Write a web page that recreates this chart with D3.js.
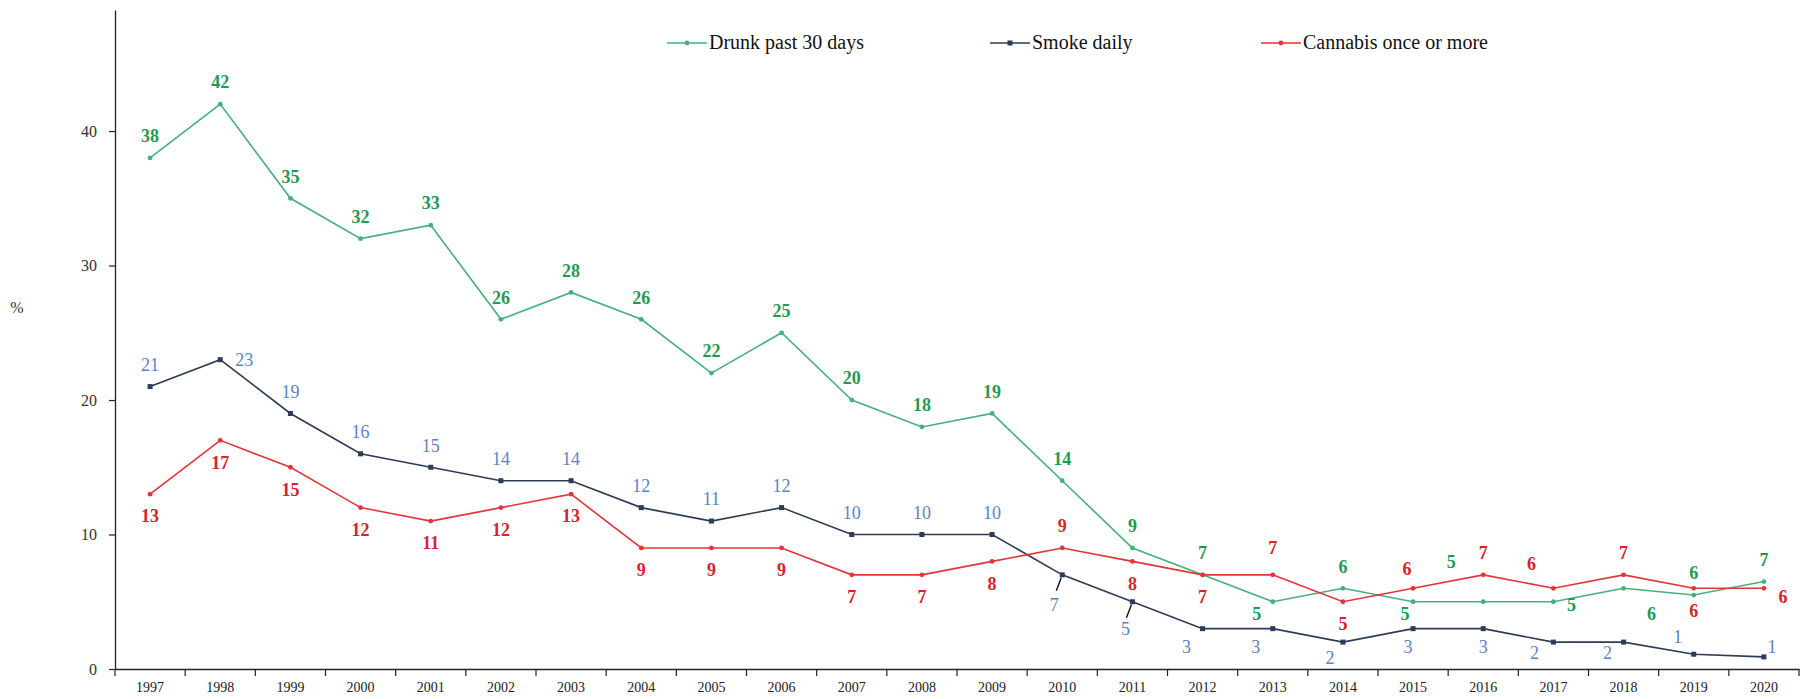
<!DOCTYPE html>
<html>
<head>
<meta charset="utf-8">
<script src="https://cdn.jsdelivr.net/npm/d3@7"></script>
<style>
  body { margin: 0; background: #fff; }
  svg { display: block; font-family: "Liberation Serif", "Times New Roman", serif; }
</style>
</head>
<body>
<div id="chart"></div>
<script>
// chart values
const years = [1997, 1998, 1999, 2000, 2001, 2002, 2003, 2004, 2005, 2006, 2007, 2008,
               2009, 2010, 2011, 2012, 2013, 2014, 2015, 2016, 2017, 2018, 2019, 2020];
const drunk    = [38, 42, 35, 32, 33, 26, 28, 26, 22, 25, 20, 18, 19, 14, 9, 7, 5, 6, 5, 5, 5, 6, 5.5, 6.5];
const smoke    = [21, 23, 19, 16, 15, 14, 14, 12, 11, 12, 10, 10, 10, 7, 5, 3, 3, 2, 3, 3, 2, 2, 1.1, 0.9];
const cannabis = [13, 17, 15, 12, 11, 12, 13, 9, 9, 9, 7, 7, 8, 9, 8, 7, 7, 5, 6, 7, 6, 7, 6, 6];
const yTicks = [0, 10, 20, 30, 40];
const seriesNames = ["Drunk past 30 days", "Smoke daily", "Cannabis once or more"];

// where each value label sits: "a" above, "b" below, or an explicit offset
const A = "a", B = "b";
const drunkPlace = [A, A, A, A, A, A, A, A, A, A, A, A, A, A, A, A,
    {dx: -16, dy: 12}, A, {dx: -8, dy: 12}, {dx: -32, dy: -40}, {dx: 18, dy: 3},
    {dx: 28, dy: 25}, A, A];
const smokePlace = [A, {dx: 24, dy: 0}, A, A, A, A, A, A, A, A, A, A, A,
    {dx: -8, dy: 30, leader: true}, {dx: -7, dy: 27, leader: true},
    {dx: -16, dy: 18}, {dx: -17, dy: 18}, {dx: -13, dy: 16}, {dx: -5, dy: 18}, {dx: 0, dy: 18},
    {dx: -19, dy: 11}, {dx: -16, dy: 11}, {dx: -16, dy: -18}, {dx: 8, dy: -10}];
const cannabisPlace = [B, B, B, B, B, B, B, B, B, B, B, B, B, A, B, B,
    {dx: 0, dy: -27}, B, {dx: -6, dy: -20}, A, {dx: -22, dy: -25}, A, B, {dx: 19, dy: 8}];

const W = 1802, H = 699;
const svg = d3.select("#chart").append("svg")
    .attr("width", W)
    .attr("height", H);

// scales
const x = d3.scaleBand()
    .domain(years)
    .range([115, 1799])
    .padding(0);
const y = d3.scaleLinear()
    .domain([0, 49])
    .range([669, 10]);
const cx = d => x(d) + x.bandwidth() / 2;

// y axis
const yAxis = svg.append("g")
    .attr("transform", "translate(115,0)")
    .call(d3.axisLeft(y).tickValues(yTicks).tickSize(6).tickSizeOuter(0).tickPadding(12));
yAxis.select(".domain").attr("stroke", "#222").attr("stroke-width", 1.3);
yAxis.selectAll(".tick line").attr("stroke", "#222").attr("stroke-width", 1.2);
yAxis.selectAll(".tick text")
    .attr("font-family", "Liberation Serif, serif")
    .attr("font-size", 16)
    .attr("fill", "#333");

// x axis: labels centred in each band, ticks on the band edges
const xAxis = svg.append("g")
    .attr("transform", "translate(0,669)")
    .call(d3.axisBottom(x).tickSize(0).tickSizeOuter(0).tickPadding(13));
xAxis.select(".domain").attr("stroke", "#222").attr("stroke-width", 1.3);
xAxis.selectAll(".tick text")
    .attr("font-family", "Liberation Serif, serif")
    .attr("font-size", 14)
    .attr("fill", "#222");
xAxis.selectAll(".edge")
    .data(years.concat(["end"]))
    .enter()
    .append("line")
    .attr("class", "edge")
    .attr("x1", d => d === "end" ? x(years[years.length - 1]) + x.bandwidth() : x(d))
    .attr("x2", d => d === "end" ? x(years[years.length - 1]) + x.bandwidth() : x(d))
    .attr("y1", 0)
    .attr("y2", 7)
    .attr("stroke", "#222")
    .attr("stroke-width", 1.2);

// "%" axis caption
svg.append("text")
    .attr("x", 17)
    .attr("y", 313)
    .attr("text-anchor", "middle")
    .attr("font-size", 16)
    .attr("fill", "#333")
    .text("%");

const series = [
    {name: seriesNames[0], values: drunk, place: drunkPlace, line: "#46b07a", label: "#1f9a55", weight: "bold", marker: "circle"},
    {name: seriesNames[1], values: smoke, place: smokePlace, line: "#2c3b58", label: "#5c83c2", weight: "normal", marker: "square"},
    {name: seriesNames[2], values: cannabis, place: cannabisPlace, line: "#e3343a", label: "#d9232b", weight: "bold", marker: "circle"}
];

const line = d3.line()
    .x((d, i) => cx(years[i]))
    .y(d => y(d));

series.forEach(s => {
    const g = svg.append("g");

    g.append("path")
        .attr("d", line(s.values))
        .attr("fill", "none")
        .attr("stroke", s.line)
        .attr("stroke-width", 1.6);

    if (s.marker === "square") {
        g.selectAll("rect")
            .data(s.values)
            .enter()
            .append("rect")
            .attr("x", (d, i) => cx(years[i]) - 2.5)
            .attr("y", d => y(d) - 2.5)
            .attr("width", 5)
            .attr("height", 5)
            .attr("fill", s.line);
    } else {
        g.selectAll("circle")
            .data(s.values)
            .enter()
            .append("circle")
            .attr("cx", (d, i) => cx(years[i]))
            .attr("cy", d => y(d))
            .attr("r", 2.4)
            .attr("fill", s.line);
    }

    const off = p => p === A ? {dx: 0, dy: -22} : p === B ? {dx: 0, dy: 22} : p;

    // leader lines for labels pushed away from their point
    g.selectAll(".leader")
        .data(s.values.map((v, i) => ({v: v, i: i})).filter(d => s.place[d.i].leader))
        .enter()
        .append("line")
        .attr("class", "leader")
        .attr("x1", d => cx(years[d.i]) - 1)
        .attr("y1", d => y(d.v) + 3)
        .attr("x2", d => cx(years[d.i]) - 6)
        .attr("y2", d => y(d.v) + 16)
        .attr("stroke", "#111")
        .attr("stroke-width", 1.4);

    g.selectAll(".val")
        .data(s.values)
        .enter()
        .append("text")
        .attr("class", "val")
        .attr("x", (d, i) => cx(years[i]) + off(s.place[i]).dx)
        .attr("y", (d, i) => y(d) + off(s.place[i]).dy)
        .attr("dy", "0.35em")
        .attr("text-anchor", "middle")
        .attr("font-size", 18)
        .attr("font-weight", s.weight)
        .attr("fill", s.label)
        .text(d => Math.round(d));
});

// legend
const legendX = [667, 990, 1261];
const legend = svg.append("g").attr("class", "legend");
series.forEach((s, i) => {
    const lg = legend.append("g").attr("transform", "translate(" + legendX[i] + ",43)");
    lg.append("line")
        .attr("x1", 0).attr("x2", 40)
        .attr("y1", 0).attr("y2", 0)
        .attr("stroke", s.line)
        .attr("stroke-width", 1.6);
    if (s.marker === "square") {
        lg.append("rect").attr("x", 17.5).attr("y", -2.5).attr("width", 5).attr("height", 5).attr("fill", s.line);
    } else {
        lg.append("circle").attr("cx", 20).attr("cy", 0).attr("r", 2.4).attr("fill", s.line);
    }
    lg.append("text")
        .attr("x", 42)
        .attr("y", 0)
        .attr("dy", "0.32em")
        .attr("font-size", 20)
        .attr("fill", "#111")
        .text(s.name);
});
</script>
</body>
</html>
